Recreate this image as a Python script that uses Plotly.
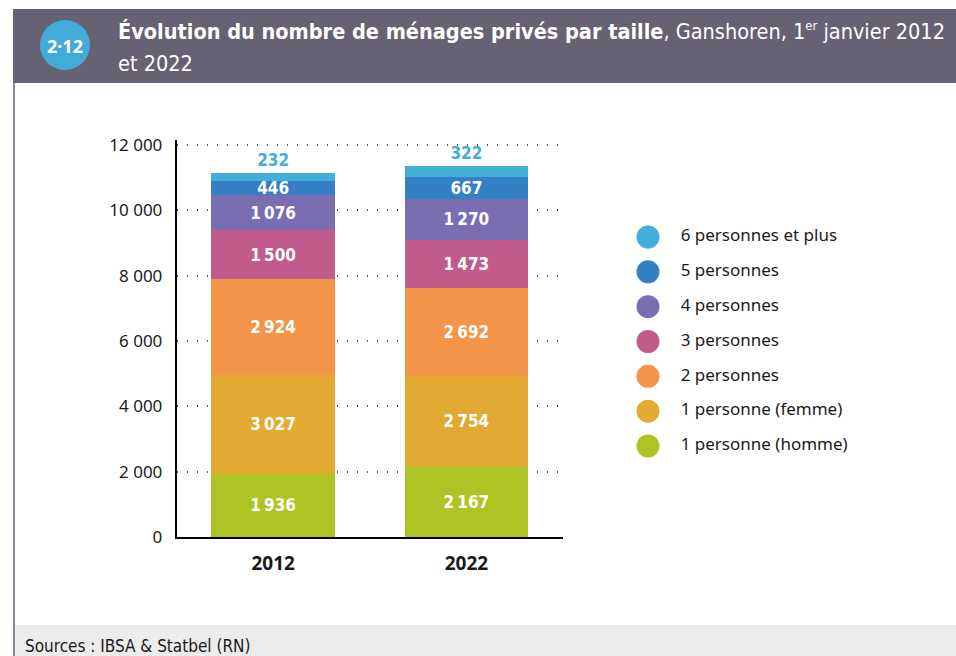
import plotly.graph_objects as go

years = ["2012", "2022"]
categories = ["1 personne (homme)", "1 personne (femme)", "2 personnes",
              "3 personnes", "4 personnes", "5 personnes", "6 personnes et plus"]
values_2012 = [1936, 3027, 2924, 1500, 1076, 446, 232]
values_2022 = [2167, 2754, 2692, 1473, 1270, 667, 322]
colors = ["#aec425", "#e2a933", "#f39448", "#c05b8c", "#7a6db1", "#3480c4", "#43aed8"]
y_ticks = [0, 2000, 4000, 6000, 8000, 10000, 12000]

COND = "Liberation Sans Narrow, Arial Narrow, DejaVu Sans Condensed, sans-serif"
REG = "Noto Sans, Open Sans, sans-serif"
W, H = 956, 656


def fmt(v):
    s = f"{v:,}"
    return s.replace(",", "\u2009")


fig = go.Figure()
for i, cat in enumerate(categories):
    vals = [values_2012[i], values_2022[i]]
    top = (i == len(categories) - 1)
    fig.add_trace(go.Bar(
        x=years, y=vals, name=cat,
        marker=dict(color=colors[i], line=dict(width=0)),
        text=[fmt(v) for v in vals],
        textposition="outside" if top else "inside",
        insidetextanchor="middle",
        textangle=0,
        constraintext="none",
        cliponaxis=False,
        textfont=dict(family=COND, size=17,
                      color=colors[i] if top else "white", weight="bold"),
        width=0.64,
        showlegend=False,
        hoverinfo="skip",
    ))

# legend built as a small scatter on its own axes
leg_cats = categories[::-1]
leg_cols = colors[::-1]
fig.add_trace(go.Scatter(
    x=[0] * len(leg_cats), y=list(range(len(leg_cats))),
    mode="markers", marker=dict(size=23, color=leg_cols),
    xaxis="x2", yaxis="y2", showlegend=False, cliponaxis=False, hoverinfo="skip"))
fig.add_trace(go.Scatter(
    x=[0.12] * len(leg_cats), y=list(range(len(leg_cats))),
    mode="text", text=leg_cats, textposition="middle right",
    textfont=dict(family=REG, size=17, color="#1a1a1a"),
    xaxis="x2", yaxis="y2", showlegend=False, cliponaxis=False, hoverinfo="skip"))

x0, x1 = 176.5, 563
y0, y1 = 537, 140.1
shapes = [
    # header band
    dict(type="rect", xref="paper", yref="paper", x0=13 / W, x1=1, y0=1 - 83 / H, y1=1 - 9 / H,
         fillcolor="#666173", line=dict(width=0), layer="below"),
    # badge
    dict(type="circle", xref="paper", yref="paper",
         x0=(65 - 25) / W, x1=(65 + 25) / W, y0=1 - (45 + 25) / H, y1=1 - (45 - 25) / H,
         fillcolor="#42acd9", line=dict(width=0)),
    # left border
    dict(type="line", xref="paper", yref="paper", x0=14 / W, x1=14 / W, y0=1 - 83 / H, y1=0,
         line=dict(color="#8c8898", width=2)),
    # footer band
    dict(type="rect", xref="paper", yref="paper", x0=15 / W, x1=1, y0=0, y1=1 - 625 / H,
         fillcolor="#ececec", line=dict(width=0), layer="below"),
]

annotations = [
    dict(text="2·12", x=65 / W, y=1 - 46 / H, xref="paper", yref="paper", showarrow=False,
         font=dict(family=REG, size=18, color="white", weight="bold"), xanchor="center", yanchor="middle"),
    dict(text="<b>Évolution du nombre de ménages privés par taille</b>, Ganshoren, 1<sup><span style='font-size:13px'>er</span></sup> janvier 2012",
         x=116 / W, y=1 - 31 / H, xref="paper", yref="paper", showarrow=False,
         font=dict(family=COND, size=21.5, color="white"), xanchor="left", yanchor="middle"),
    dict(text="et 2022", x=116 / W, y=1 - 63 / H, xref="paper", yref="paper", showarrow=False,
         font=dict(family=COND, size=21.5, color="white"), xanchor="left", yanchor="middle"),
    dict(text="Sources : IBSA & Statbel (RN)", x=23 / W, y=1 - 646 / H, xref="paper", yref="paper",
         showarrow=False, font=dict(family=COND, size=17, color="#1a1a1a"),
         xanchor="left", yanchor="middle"),
]

row = (446 - 237) / 6
leg_top = 237 - row / 2
leg_bot = 446 + row / 2

fig.update_layout(
    width=W, height=H,
    margin=dict(l=0, r=0, t=0, b=0, pad=0, autoexpand=False),
    paper_bgcolor="white", plot_bgcolor="white",
    barmode="stack",
    separators=", ",
    shapes=shapes,
    annotations=annotations,
    hovermode=False,
    xaxis=dict(domain=[x0 / W, x1 / W], range=[-0.5, 1.5], showline=True, linecolor="black",
               linewidth=1.5, ticks="", showgrid=False, automargin=False,
               tickfont=dict(family=REG, size=19, color="#1a1a1a", weight="bold"), ticklabelstandoff=8),
    yaxis=dict(domain=[1 - y0 / H, 1 - y1 / H], range=[0, 12150], tickvals=y_ticks,
               tickformat=",d", showline=True, linecolor="black", linewidth=1.5,
               showgrid=True, gridcolor="#555555", griddash="1px,9px", gridwidth=1.5,
               zeroline=False, ticks="", ticklabelstandoff=9, automargin=False,
               tickfont=dict(family=REG, size=17, color="#1a1a1a")),
    xaxis2=dict(domain=[648 / W, 920 / W], range=[0, 1], visible=False, anchor="y2", automargin=False),
    yaxis2=dict(domain=[1 - leg_bot / H, 1 - leg_top / H], range=[len(leg_cats) - 0.5, -0.5],
                visible=False, anchor="x2", automargin=False),
)

fig.write_html("out.html", config={"displayModeBar": False},
               post_script="document.body.style.margin='0';document.body.style.padding='0';")
